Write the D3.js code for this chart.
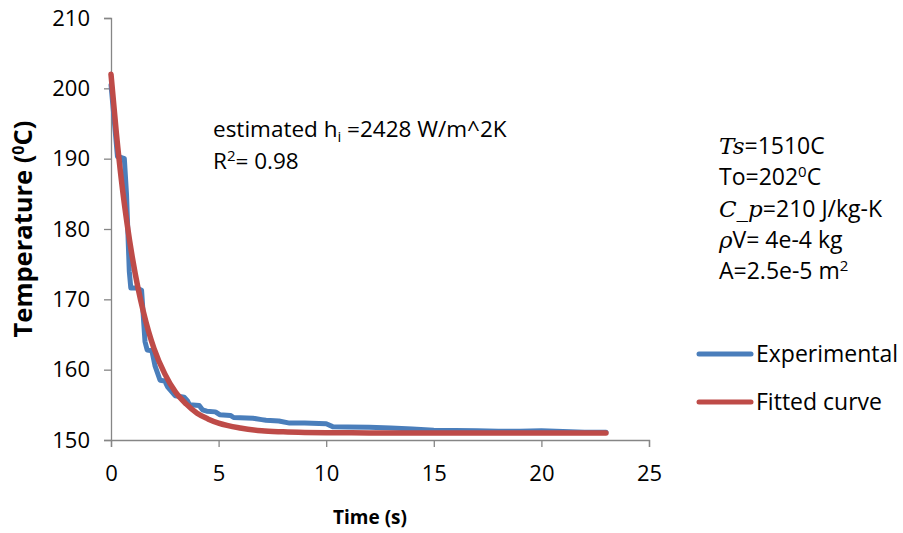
<!DOCTYPE html>
<html>
<head>
<meta charset="utf-8">
<script src="https://cdn.jsdelivr.net/npm/d3@7"></script>
<style>
  html, body { margin: 0; padding: 0; background: #fff; }
  svg { display: block; font-family: "Open Sans", "Noto Sans", sans-serif; }
</style>
</head>
<body>
<svg id="chart" width="903" height="533"></svg>
<script>
// Measured cooling curve: time (s) and temperature (°C)
const expTime = [0, 0.15, 0.3, 0.45, 0.62, 0.72, 0.85, 0.92, 1.2, 1.42, 1.58, 1.68, 1.9, 2.05, 2.28, 2.5, 2.62, 2.98, 3.4, 3.55, 3.65, 4.1, 4.25, 4.45, 4.85, 5.05, 5.55, 5.7, 6.6, 7.0, 7.2, 7.8, 8.3, 9.0, 10.0, 10.3, 11.0, 12.0, 13.0, 14.0, 15.0, 16.0, 17.0, 18.0, 19.0, 20.0, 21.0, 22.0, 23.0];
const expTemp = [200.5, 195.5, 190.3, 190.2, 190.0, 185.0, 174.0, 171.6, 171.6, 171.3, 164.0, 162.8, 162.7, 160.5, 158.5, 158.4, 157.6, 156.3, 156.1, 155.6, 155.0, 154.9, 154.3, 154.1, 154.0, 153.6, 153.5, 153.2, 153.1, 152.9, 152.8, 152.7, 152.4, 152.4, 152.3, 151.9, 151.85, 151.8, 151.7, 151.55, 151.4, 151.35, 151.3, 151.25, 151.25, 151.3, 151.2, 151.1, 151.1];

// Lumped-capacitance fit, sampled values
const fitTime = [0, 0.25, 0.5, 0.75, 1.0, 1.25, 1.5, 1.75, 2.0, 2.5, 3.0, 3.5, 4.0, 4.5, 5.0, 6.0, 7.0, 8.0, 9.0, 10.0, 12.0, 15.0, 19.0, 23.0];
const fitTemp = [202.0, 193.6, 186.5, 180.7, 175.8, 171.7, 168.3, 165.4, 163.0, 159.4, 156.8, 155.1, 153.8, 153.0, 152.4, 151.7, 151.3, 151.16, 151.08, 151.04, 151.01, 151.0, 151.0, 151.0];

const xTicks = [0, 5, 10, 15, 20, 25];
const yTicks = [150, 160, 170, 180, 190, 200, 210];

const seriesNames = ["Experimental", "Fitted curve"];
const seriesColors = ["#4a7ebb", "#be4b48"];

const svg = d3.select("#chart");
const gray = "#868686";
const tickSize = 22;
const fontSize = 23;
const supSize = 15;

const x = d3.scaleLinear().domain([0, 25]).range([111, 649]);
const y = d3.scaleLinear().domain([150, 210]).range([440, 18]);

// Axes
const xAxis = svg.append("g")
  .attr("transform", `translate(0,${y(150)})`)
  .call(d3.axisBottom(x).tickValues(xTicks).tickSize(7).tickPadding(18).tickFormat(d3.format("d")));
const yAxis = svg.append("g")
  .attr("transform", `translate(${x(0)},0)`)
  .call(d3.axisLeft(y).tickValues(yTicks).tickSize(7).tickPadding(14).tickFormat(d3.format("d")));

[xAxis, yAxis].forEach(a => {
  a.select(".domain").attr("stroke", gray).attr("stroke-width", 1.3);
  a.selectAll(".tick line").attr("stroke", gray).attr("stroke-width", 1.3);
  a.selectAll(".tick text").attr("fill", "#000").style("font-size", tickSize + "px")
    .style("font-family", "'Open Sans', sans-serif");
});

// Axis titles
svg.append("text")
  .attr("x", 370).attr("y", 524)
  .attr("text-anchor", "middle")
  .style("font-size", "19px").style("font-weight", "bold")
  .text("Time (s)");

const yTitle = svg.append("text")
  .attr("transform", `translate(32,${(y(150) + y(210)) / 2}) rotate(-90)`)
  .attr("text-anchor", "middle")
  .style("font-size", "25.5px").style("font-weight", "bold");
yTitle.append("tspan").text("Temperature (");
yTitle.append("tspan").attr("dy", -8).style("font-size", "16px").text("0");
yTitle.append("tspan").attr("dy", 8).text("C)");

// Series
const line = d3.line().x(d => x(d[0])).y(d => y(d[1]));
const expData = expTime.map((t, i) => [t, expTemp[i]]);
const fitData = fitTime.map((t, i) => [t, fitTemp[i]]);

svg.append("path")
  .datum(expData)
  .attr("d", line.curve(d3.curveLinear))
  .attr("fill", "none").attr("stroke", seriesColors[0])
  .attr("stroke-width", 5).attr("stroke-linejoin", "round").attr("stroke-linecap", "round");

svg.append("path")
  .datum(fitData)
  .attr("d", line.curve(d3.curveMonotoneX))
  .attr("fill", "none").attr("stroke", seriesColors[1])
  .attr("stroke-width", 5.5).attr("stroke-linejoin", "round").attr("stroke-linecap", "round");

// Fit annotation
const ann1 = svg.append("text").attr("x", 213).attr("y", 137).style("font-size", "22.5px");
ann1.append("tspan").text("estimated h");
ann1.append("tspan").attr("dy", 5).style("font-size", supSize + "px").text("i");
ann1.append("tspan").attr("dy", -5).text(" =2428 W/m^2K");

const ann2 = svg.append("text").attr("x", 213).attr("y", 169).style("font-size", "22.5px");
ann2.append("tspan").text("R");
ann2.append("tspan").attr("dy", -8).style("font-size", supSize + "px").text("2");
ann2.append("tspan").attr("dy", 8).text("= 0.98");

// Parameter block
const serif = "'DejaVu Serif', 'Liberation Serif', serif";
const p = svg.append("g").style("font-size", fontSize + "px");
const l1 = p.append("text").attr("x", 719).attr("y", 154);
l1.append("tspan").style("font-family", serif).style("font-style", "italic").text("Ts");
l1.append("tspan").text("=1510C");

const l2 = p.append("text").attr("x", 719).attr("y", 185);
l2.append("tspan").text("To=202");
l2.append("tspan").attr("dy", -8).style("font-size", supSize + "px").text("0");
l2.append("tspan").attr("dy", 8).text("C");

const l3 = p.append("text").attr("x", 719).attr("y", 217);
l3.append("tspan").style("font-family", serif).style("font-style", "italic").text("C_p");
l3.append("tspan").text("=210 J/kg-K");

const l4 = p.append("text").attr("x", 719).attr("y", 248);
l4.append("tspan").style("font-family", serif).style("font-style", "italic").text("ρ");
l4.append("tspan").text("V= 4e-4 kg");

const l5 = p.append("text").attr("x", 719).attr("y", 279);
l5.append("tspan").text("A=2.5e-5 m");
l5.append("tspan").attr("dy", -8).style("font-size", supSize + "px").text("2");

// Legend
const legY = [354, 402];
seriesNames.forEach((name, i) => {
  const g = svg.append("g").attr("transform", `translate(0,${legY[i]})`);
  g.append("line").attr("x1", 699).attr("x2", 751).attr("y1", 0).attr("y2", 0)
    .attr("stroke", seriesColors[i]).attr("stroke-width", 5).attr("stroke-linecap", "round");
  g.append("text").attr("x", 756).attr("y", 8).style("font-size", fontSize + "px").text(name);
});
</script>
</body>
</html>
